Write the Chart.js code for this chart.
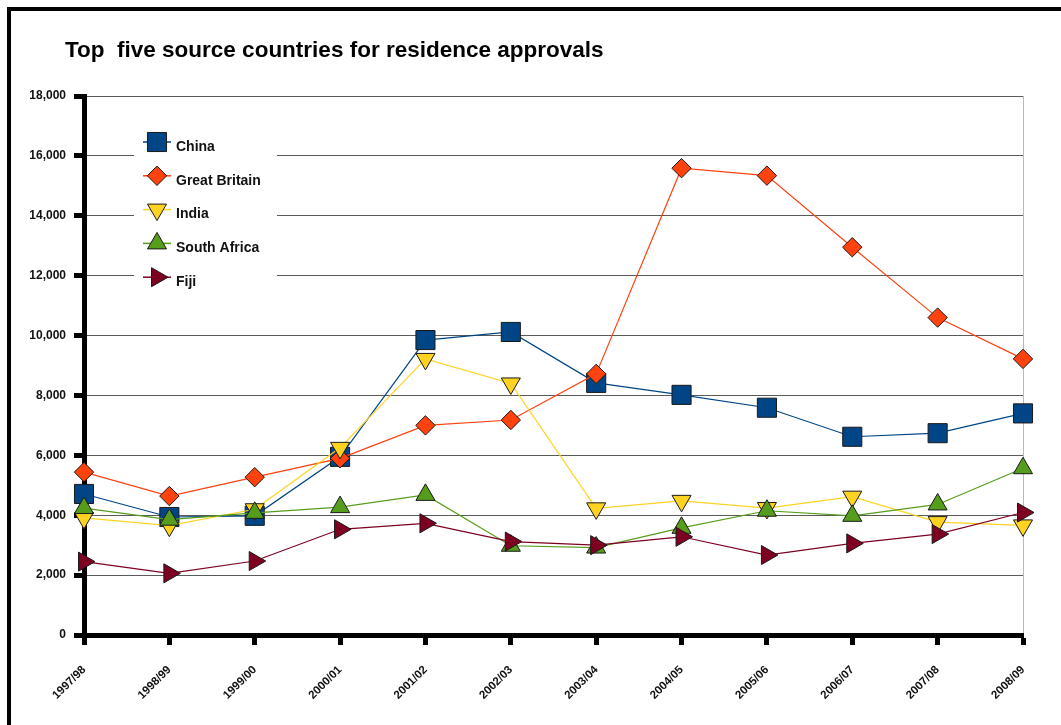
<!DOCTYPE html>
<html>
<head>
<meta charset="utf-8">
<script src="https://cdn.jsdelivr.net/npm/chart.js@4.4.1/dist/chart.umd.min.js"></script>
<style>
  html, body { margin: 0; padding: 0; background: #fff; }
  #wrap { position: relative; width: 1061px; height: 725px; }
  canvas { display: block; }
</style>
</head>
<body>
<div id="wrap"><canvas id="c" width="1061" height="725"></canvas></div>
<script>
const titleText = 'Top  five source countries for residence approvals';
const categories = ['1997/98','1998/99','1999/00','2000/01','2001/02','2002/03','2003/04','2004/05','2005/06','2006/07','2007/08','2008/09'];
const seriesNames = ['China','Great Britain','India','South Africa','Fiji'];
const china        = [4710, 3940, 3980, 5950, 9850, 10120, 8420, 8020, 7590, 6620, 6740, 7400];
const greatBritain = [5440, 4640, 5270, 5900, 7000, 7180, 8720, 15590, 15340, 12950, 10600, 9220];
const india        = [3910, 3650, 4200, 6250, 9220, 8400, 4230, 4480, 4240, 4620, 3770, 3660];
const southAfrica  = [4240, 3850, 4080, 4270, 4680, 2980, 2920, 3580, 4150, 3980, 4360, 5570];
const fiji         = [2450, 2060, 2470, 3530, 3730, 3120, 3000, 3280, 2670, 3060, 3370, 4090];
const yTicks = [0, 2000, 4000, 6000, 8000, 10000, 12000, 14000, 16000, 18000];

const colors = ['#004586', '#ff420e', '#ffd320', '#579d1c', '#7e0021'];
const styles = [
  { pointStyle: 'rect', rotation: 0, radius: 13.5 },
  { pointStyle: 'rectRot', rotation: 0, radius: 9.7 },
  { pointStyle: 'triangle', rotation: 180, radius: 11 },
  { pointStyle: 'triangle', rotation: 0, radius: 11 },
  { pointStyle: 'triangle', rotation: 90, radius: 11 }
];
const values = [china, greatBritain, india, southAfrica, fiji];

const datasets = seriesNames.map((name, i) => ({
  label: name,
  data: values[i],
  borderColor: colors[i],
  backgroundColor: colors[i],
  borderWidth: 1.2,
  pointBackgroundColor: colors[i],
  pointBorderColor: '#1a1a1a',
  pointBorderWidth: 1,
  pointStyle: styles[i].pointStyle,
  pointRotation: styles[i].rotation,
  pointRadius: styles[i].radius,
  pointHoverRadius: styles[i].radius,
  tension: 0,
  order: 5 - i
}));

const frameAndTitle = {
  id: 'frameAndTitle',
  beforeDraw(chart) {
    const ctx = chart.ctx;
    ctx.save();
    ctx.fillStyle = '#fff';
    ctx.fillRect(0, 0, chart.width, chart.height);
    ctx.fillStyle = '#000';
    ctx.fillRect(7, 7, 4, chart.height - 7);
    ctx.fillRect(7, 7, chart.width - 7, 4);
    ctx.font = 'bold 22.5px "Liberation Sans", Arial, sans-serif';
    ctx.textAlign = 'left';
    ctx.textBaseline = 'alphabetic';
    ctx.fillText(titleText, 65, 57);
    ctx.restore();
  }
};

const customLegend = {
  id: 'customLegend',
  beforeDatasetsDraw(chart) {
    const ctx = chart.ctx;
    ctx.save();
    ctx.fillStyle = '#fff';
    ctx.fillRect(134, 120, 143, 175);
    const x0 = 143, x1 = 171, mx = 157, tx = 176;
    chart.data.datasets.forEach((ds, i) => {
      const y = 142 + i * 33.8;
      ctx.strokeStyle = ds.borderColor;
      ctx.lineWidth = 1.5;
      ctx.beginPath();
      ctx.moveTo(x0, y);
      ctx.lineTo(x1, y);
      ctx.stroke();
      ctx.fillStyle = ds.pointBackgroundColor;
      ctx.strokeStyle = '#1a1a1a';
      ctx.lineWidth = 1;
      Chart.helpers.drawPoint(ctx, {
        pointStyle: ds.pointStyle,
        rotation: ds.pointRotation,
        radius: ds.pointRadius,
        borderWidth: 1
      }, mx, y);
      ctx.fillStyle = '#111';
      ctx.font = 'bold 14px "Liberation Sans", Arial, sans-serif';
      ctx.textAlign = 'left';
      ctx.textBaseline = 'middle';
      ctx.fillText(ds.label, tx, y + 5);
    });
    ctx.restore();
  }
};

new Chart(document.getElementById('c'), {
  type: 'line',
  data: { labels: categories, datasets: datasets },
  options: {
    responsive: false,
    animation: false,
    events: [],
    layout: { padding: { top: 96, right: 38, bottom: 0, left: 0 } },
    plugins: {
      legend: { display: false },
      title: { display: false },
      tooltip: { enabled: false }
    },
    scales: {
      x: {
        type: 'category',
        offset: false,
        afterFit(scale) { scale.height = 90; },
        border: { display: true, color: '#000', width: 5 },
        grid: {
          display: true,
          drawOnChartArea: true,
          color: (c) => (c.index === categories.length - 1 ? '#b8b8b8' : 'rgba(0,0,0,0)'),
          lineWidth: 1,
          drawTicks: true,
          tickLength: 10,
          tickWidth: 5,
          tickColor: '#000'
        },
        ticks: {
          autoSkip: false,
          maxRotation: 45,
          minRotation: 45,
          padding: 18,
          color: '#111',
          font: { family: '"Liberation Sans", Arial, sans-serif', size: 11.5, weight: 'bold' }
        }
      },
      y: {
        min: 0,
        max: 18000,
        afterFit(scale) { scale.width = 84; },
        afterBuildTicks(scale) { scale.ticks = yTicks.map(v => ({ value: v })); },
        border: { display: true, color: '#000', width: 5 },
        grid: {
          color: '#5a5a5a',
          lineWidth: 1,
          drawTicks: true,
          tickLength: 10,
          tickWidth: 5,
          tickColor: '#000'
        },
        ticks: {
          padding: 8,
          color: '#111',
          font: { family: '"Liberation Sans", Arial, sans-serif', size: 12, weight: 'bold' },
          callback: (v) => Number(v).toLocaleString('en-US')
        }
      }
    }
  },
  plugins: [frameAndTitle, customLegend]
});
</script>
</body>
</html>
